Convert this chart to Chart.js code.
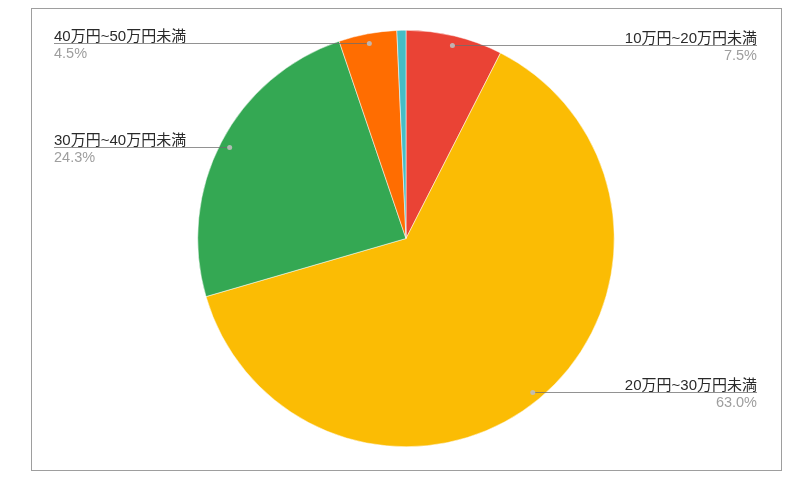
<!DOCTYPE html>
<html>
<head>
<meta charset="utf-8">
<script src="https://cdn.jsdelivr.net/npm/chart.js@4.4.1/dist/chart.umd.min.js"></script>
<style>
  html, body { margin: 0; padding: 0; background: #fff; }
  #wrap { position: relative; width: 812px; height: 491px; }
</style>
</head>
<body>
<div id="wrap"><canvas id="pie"></canvas></div>
<script>
const categories = ['10万円~20万円未満', '20万円~30万円未満', '30万円~40万円未満', '40万円~50万円未満', '50万円以上'];
const shares = [7.5, 63.0, 24.3, 4.5, 0.7];
const sliceColors = ['#ea4335', '#fbbc04', '#34a853', '#ff6d01', '#46bdc6'];

// --- frame round the chart ---
const framePlugin = {
    id: 'frame',
    beforeDraw(chart) {
        const ctx = chart.ctx;
        ctx.save();
        ctx.fillStyle = '#fff';
        ctx.fillRect(0, 0, chart.width, chart.height);
        ctx.strokeStyle = '#9e9e9e';
        ctx.lineWidth = 1;
        ctx.strokeRect(31.5, 8.5, 750, 462);
        ctx.restore();
    }
};

// --- leader lines and labels, Google Sheets style ---
const leaderPlugin = {
    id: 'leaders',
    afterDraw(chart) {
        const ctx = chart.ctx;
        const arcs = chart.getDatasetMeta(0).data;
        const leftX = 54, rightX = 757;
        ctx.save();
        arcs.forEach((arc, i) => {
            if (shares[i] < 1) return;
            const mid = (arc.startAngle + arc.endAngle) / 2;
            const r = arc.outerRadius * 0.955;
            const px = arc.x + Math.cos(mid) * r;
            const py = Math.round(arc.y + Math.sin(mid) * r) + 0.5;
            const right = Math.cos(mid) >= 0;
            const endX = right ? rightX : leftX;

            ctx.strokeStyle = 'rgba(110,110,110,0.75)';
            ctx.lineWidth = 1;
            ctx.beginPath();
            ctx.moveTo(px, py);
            ctx.lineTo(endX, py);
            ctx.stroke();

            ctx.fillStyle = 'rgba(190,190,190,0.9)';
            ctx.beginPath();
            ctx.arc(px, py, 2.5, 0, Math.PI * 2);
            ctx.fill();

            ctx.textAlign = right ? 'right' : 'left';
            ctx.textBaseline = 'alphabetic';
            ctx.font = '15px Arial, "Liberation Sans", "Noto Sans CJK JP", sans-serif';
            ctx.fillStyle = '#2a2a2a';
            ctx.fillText(categories[i], endX, py - 3);
            ctx.font = '14.5px Arial, "Liberation Sans", sans-serif';
            ctx.fillStyle = '#9e9e9e';
            ctx.fillText(shares[i].toFixed(1) + '%', endX, py + 14);
        });
        ctx.restore();
    }
};

new Chart(document.getElementById('pie'), {
    type: 'pie',
    data: {
        labels: categories,
        datasets: [{
            data: shares,
            backgroundColor: sliceColors,
            borderColor: '#fff',
            borderWidth: 0.5
        }]
    },
    options: {
        responsive: true,
        maintainAspectRatio: false,
        animation: false,
        layout: { padding: { top: 30, bottom: 44, left: 100, right: 100 } },
        plugins: {
            legend: { display: false },
            tooltip: { enabled: false }
        }
    },
    plugins: [framePlugin, leaderPlugin]
});
</script>
</body>
</html>
